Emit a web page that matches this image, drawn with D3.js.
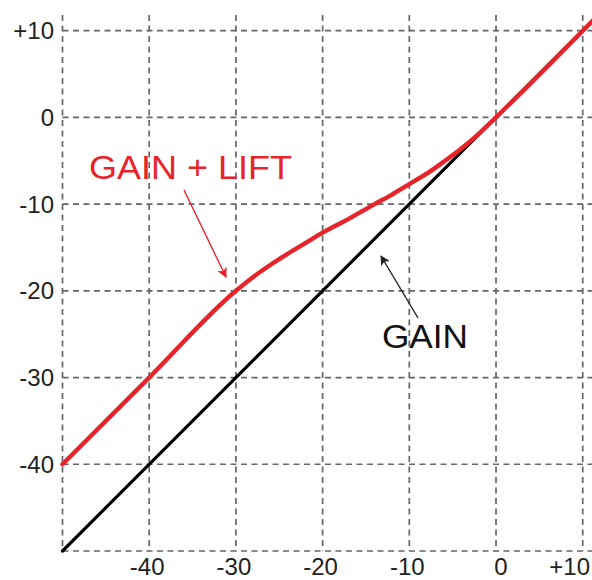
<!DOCTYPE html>
<html><head><meta charset="utf-8">
<script src="https://cdn.jsdelivr.net/npm/d3@7"></script>
<style>html,body{margin:0;padding:0;background:#fff;}svg{display:block;}</style>
</head><body>
<script>
const gridTicks = [-50,-40,-30,-20,-10,0,10];
const xTickLabels = ["-40","-30","-20","-10","0","+10"];
const xTickValues = [-40,-30,-20,-10,0,10];
const yTickLabels = ["+10","0","-10","-20","-30","-40"];
const yTickValues = [10,0,-10,-20,-30,-40];
const gainX = [-50, 11.2];
const gainY = [-50, 11.2];
const liftX = [-50,-40,-30,-28,-26,-24,-22,-20,-17,-14,-12,-10,-8,-6,-4,-2,0,11.2];
const liftY = [-40,-30,-20,-18.4,-17.0,-15.7,-14.5,-13.3,-11.7,-10.0,-8.9,-7.7,-6.5,-5.1,-3.6,-1.9,0,11.2];
const labels = [{text:"GAIN + LIFT", color:"#e8242b"}, {text:"GAIN", color:"#111"}];

const W = 592, H = 580;
const svg = d3.select("body").append("svg").attr("width", W).attr("height", H);
const x = d3.scaleLinear().domain([-50, 11.07]).range([62.5, 592]);
const y = d3.scaleLinear().domain([-50, 11.8]).range([551, 15]);

const defs = svg.append("defs");
function marker(id, color){
  defs.append("marker").attr("id", id).attr("viewBox","0 0 10 10").attr("refX",9).attr("refY",5)
    .attr("markerWidth",10).attr("markerHeight",10).attr("markerUnits","userSpaceOnUse").attr("orient","auto")
    .append("path").attr("d","M0,0 L10,5 L0,10 L2.5,5 z").attr("fill", color);
}
marker("arrRed", "#e8242b");
marker("arrBlk", "#222");

// grid
const grid = svg.append("g").attr("stroke","#666").attr("stroke-width",1.7).attr("stroke-dasharray","6,4.5").attr("fill","none");
grid.selectAll("line.v").data(gridTicks).join("line").attr("class","v")
  .attr("x1", d=>x(d)).attr("x2", d=>x(d)).attr("y1", y(11.8)).attr("y2", y(-50));
grid.selectAll("line.h").data(gridTicks).join("line").attr("class","h")
  .attr("y1", d=>y(d)).attr("y2", d=>y(d)).attr("x1", x(-50)).attr("x2", W);

// axis labels
const font = "Liberation Sans, Arial, sans-serif";
svg.append("g").selectAll("text").data(yTickValues).join("text")
  .attr("x", 54).attr("y", d=>y(d)).attr("dy","0.36em").attr("text-anchor","end")
  .attr("font-family", font).attr("font-size", 24).attr("fill","#222")
  .text((d,i)=>yTickLabels[i]);
svg.append("g").selectAll("text").data(xTickValues).join("text")
  .attr("x", d=> d===10 ? 590 : x(d) + (d===0?5:-2)).attr("y", 575)
  .attr("text-anchor", d=> d===10 ? "end" : "middle")
  .attr("font-family", font).attr("font-size", 24).attr("fill","#222")
  .text((d,i)=>xTickLabels[i]);

// lines
const line = d3.line().x(d=>x(d[0])).y(d=>y(d[1])).curve(d3.curveMonotoneX);
svg.append("path").datum(gainX.map((v,i)=>[v,gainY[i]])).attr("d", line)
  .attr("fill","none").attr("stroke","#000").attr("stroke-width",3.2).attr("stroke-linecap","round");
svg.append("path").datum(liftX.map((v,i)=>[v,liftY[i]])).attr("d", line)
  .attr("fill","none").attr("stroke","#e8242b").attr("stroke-width",4.4).attr("stroke-linecap","round").attr("stroke-linejoin","round");

// annotations
svg.append("text").attr("x", 89).attr("y", 179).attr("font-family", font).attr("font-size", 33)
  .attr("fill", labels[0].color).attr("textLength", 203).attr("lengthAdjust","spacingAndGlyphs").text(labels[0].text);
svg.append("line").attr("x1",184).attr("y1",190).attr("x2",226).attr("y2",277)
  .attr("stroke","#e8242b").attr("stroke-width",1.4).attr("marker-end","url(#arrRed)");
svg.append("text").attr("x", 382).attr("y", 348).attr("font-family", font).attr("font-size", 33)
  .attr("fill", labels[1].color).attr("textLength", 86).attr("lengthAdjust","spacingAndGlyphs").text(labels[1].text);
svg.append("line").attr("x1",418).attr("y1",318).attr("x2",381).attr("y2",256)
  .attr("stroke","#222").attr("stroke-width",1.4).attr("marker-end","url(#arrBlk)");
</script>
</body></html>
